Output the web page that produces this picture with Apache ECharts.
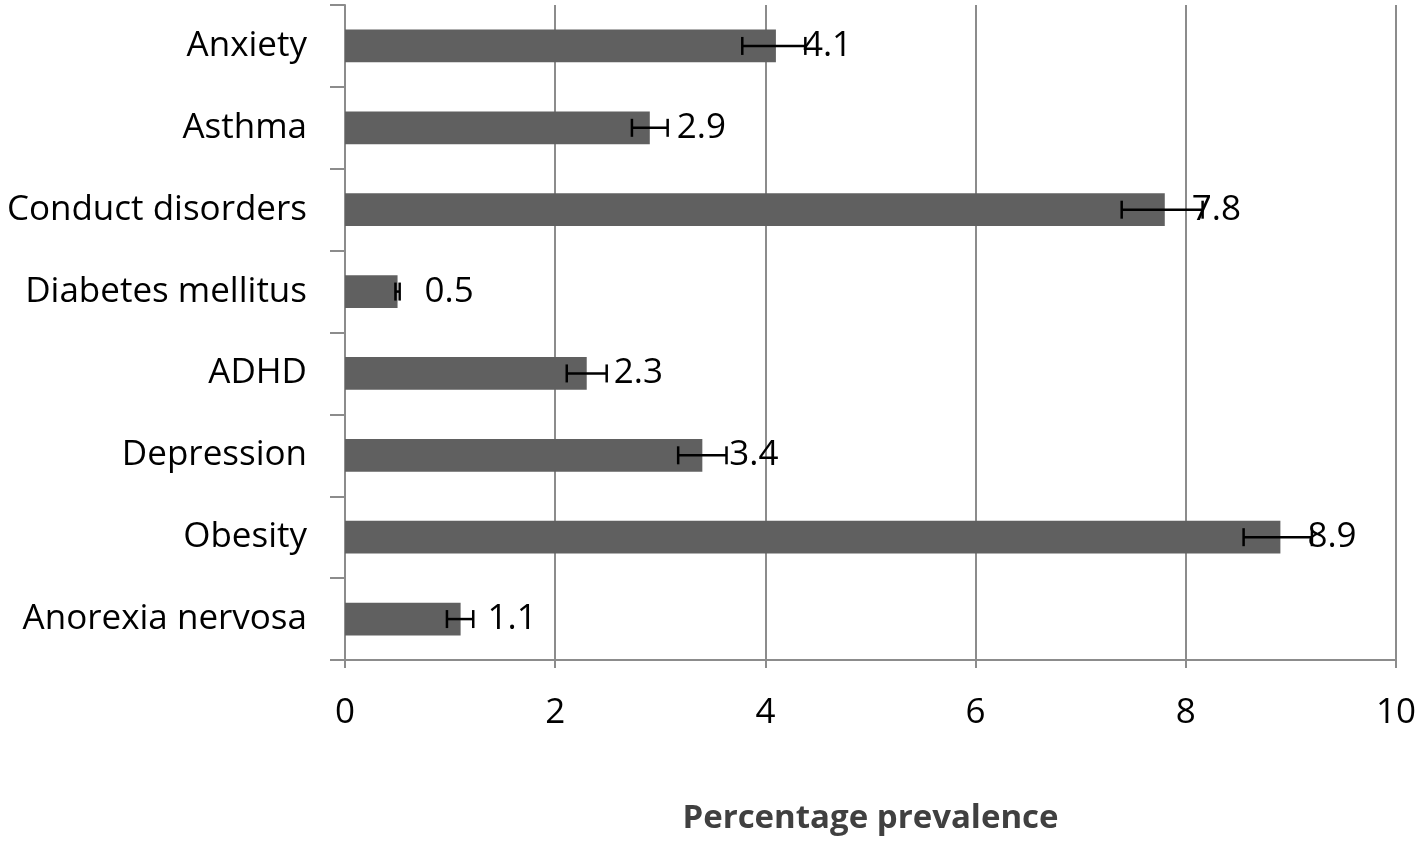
<!DOCTYPE html>
<html><head><meta charset="utf-8">
<script src="https://cdn.jsdelivr.net/npm/echarts@6/dist/echarts.min.js"></script>
<style>html,body{margin:0;padding:0;background:#fff}#c{width:1421px;height:842px}</style>
</head><body><div id="c"></div>
<script>
const categories = ["Anxiety","Asthma","Conduct disorders","Diabetes mellitus","ADHD","Depression","Obesity","Anorexia nervosa"];
const prevalence = [4.1, 2.9, 7.8, 0.5, 2.3, 3.4, 8.9, 1.1];
const errLow = [3.78, 2.73, 7.39, 0.48, 2.11, 3.17, 8.55, 0.97];
const errHigh = [4.38, 3.07, 8.16, 0.52, 2.49, 3.63, 9.2, 1.22];
const xTicks = [0, 2, 4, 6, 8, 10];

const chart = echarts.init(document.getElementById('c'));
const font = "'Open Sans', 'Liberation Sans', sans-serif";
chart.setOption({
  animation: false,
  grid: {left: 345, right: 25, top: 5, bottom: 182, containLabel: false},
  xAxis: {
    type: 'value', min: xTicks[0], max: xTicks[xTicks.length-1], interval: 2,
    name: 'Percentage prevalence', nameLocation: 'middle', nameGap: 142,
    nameTextStyle: {fontFamily: font, fontSize: 33, fontWeight: 'bold', color: '#404040'},
    axisLine: {show: true, lineStyle: {color: '#8c8c8c', width: 2}},
    axisTick: {show: true, length: 8, lineStyle: {color: '#8c8c8c', width: 2}},
    axisLabel: {fontFamily: font, fontSize: 35, color: '#000', margin: 36},
    splitLine: {show: true, lineStyle: {color: '#8c8c8c', width: 2}}
  },
  yAxis: {
    type: 'category', data: categories, inverse: true,
    axisLine: {show: true, lineStyle: {color: '#8c8c8c', width: 2}},
    axisTick: {show: true, length: 15, alignWithLabel: false, lineStyle: {color: '#8c8c8c', width: 2}},
    axisLabel: {fontFamily: font, fontSize: 35, color: '#000', margin: 38}
  },
  series: [{
    type: 'bar', data: prevalence, barWidth: '40%',
    itemStyle: {color: '#606060'},
    label: {show: true, position: 'right', distance: 27, fontFamily: font, fontSize: 35, color: '#000'}
  }, {
    type: 'custom',
    data: categories.map((c, i) => [i, errLow[i], errHigh[i]]),
    encode: {y: 0, x: [1, 2]},
    z: 5,
    renderItem: function (params, api) {
      const y = api.value(0);
      const a = api.coord([api.value(1), y]);
      const b = api.coord([api.value(2), y]);
      const h = 9;
      const st = {stroke: '#000', lineWidth: 2.5};
      return {type: 'group', children: [
        {type: 'line', shape: {x1: a[0], y1: a[1], x2: b[0], y2: b[1]}, style: st},
        {type: 'line', shape: {x1: a[0], y1: a[1]-h, x2: a[0], y2: a[1]+h}, style: st},
        {type: 'line', shape: {x1: b[0], y1: b[1]-h, x2: b[0], y2: b[1]+h}, style: st}
      ]};
    }
  }]
});
</script></body></html>
